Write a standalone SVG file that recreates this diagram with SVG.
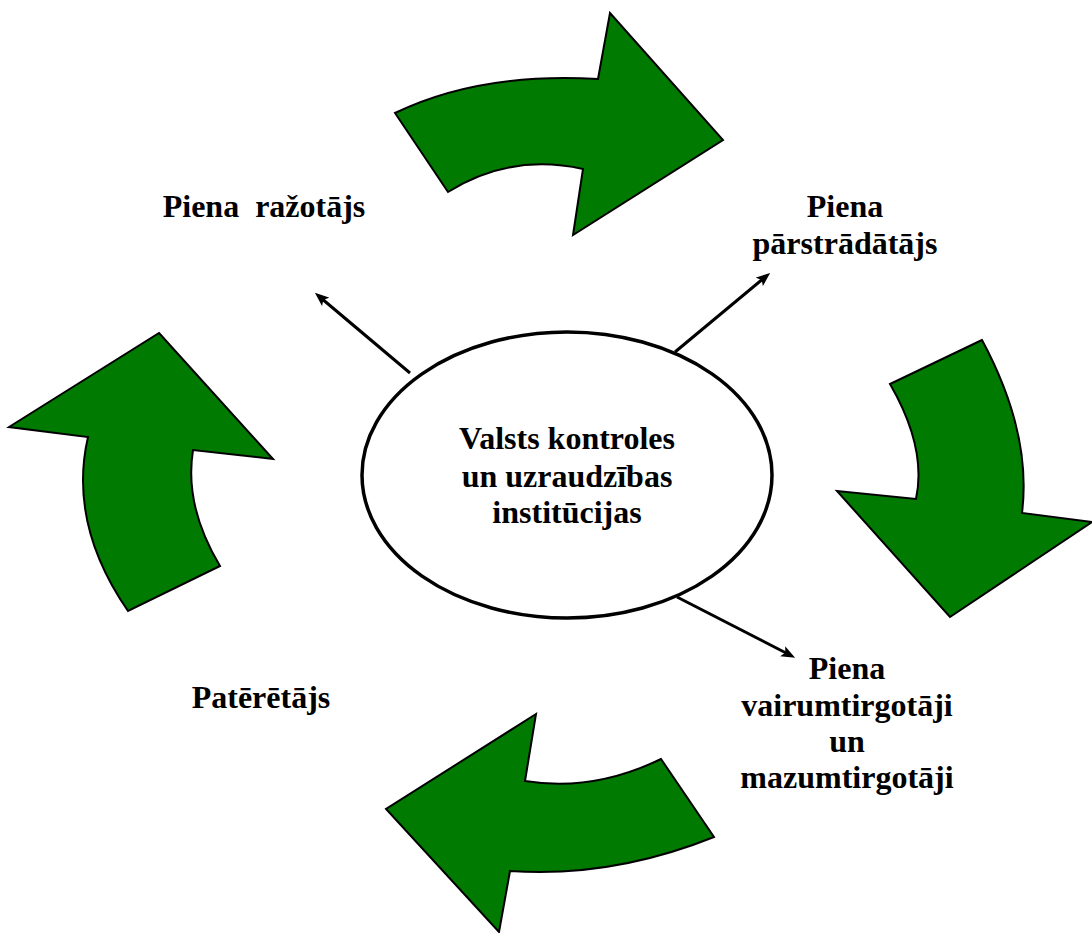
<svg xmlns="http://www.w3.org/2000/svg" width="1092" height="933" viewBox="0 0 1092 933">
<style>
.bg{fill:#ffffff}
.big{fill:#007a00;stroke:#000000;stroke-width:2;stroke-linejoin:miter}
.lbl{font-family:"Liberation Serif","Times New Roman",serif;font-weight:bold;font-size:32px;fill:#000000;text-anchor:middle}
.conn{stroke:#000000;stroke-width:3;fill:none}
.oval{fill:#ffffff;stroke:#000000;stroke-width:3.5}
</style>
<defs>
<marker id="ah" markerUnits="userSpaceOnUse" markerWidth="14" markerHeight="12" refX="6" refY="6" orient="auto">
<path d="M0,0.5 L14,6 L0,11.5 L3,6 Z" fill="#000000"/>
</marker>
</defs>
<rect class="bg" x="0" y="0" width="1092" height="933"/>
<g id="flow-arrows">
<path id="arrow-top" class="big" d="M395,113 Q480,72 598,79 L610,13 L723,140 L573,235 L583,169 Q510,153 448,192 Z"/>
<path id="arrow-right" class="big" d="M982,340 L890,384 Q927,448 916,499 L837,491 L950,617 L1092,522 L1022,513 Q1032,433 982,340 Z"/>
<path id="arrow-bottom" class="big" d="M536,714 L386,809 L499,932 L510,871 Q612,878 714,837 L661,759 Q593,792 525,781 Z"/>
<path id="arrow-left" class="big" d="M159,333 L273,459 L193,450 Q184,506 220,566 L128,611 Q68,524 88,437 L9,427 Z"/>
</g>
<g id="connectors">
<line class="conn" x1="410" y1="373" x2="321" y2="298" marker-end="url(#ah)"/>
<line class="conn" x1="675" y1="352" x2="764" y2="278" marker-end="url(#ah)"/>
<line class="conn" x1="677" y1="597" x2="788" y2="654" marker-end="url(#ah)"/>
</g>
<g id="center">
<ellipse class="oval" cx="567" cy="475" rx="205" ry="143"/>
<text class="lbl" x="567" y="449">Valsts kontroles</text>
<text class="lbl" x="567" y="487">un uzraudzības</text>
<text class="lbl" x="567" y="523">institūcijas</text>
</g>
<g id="producer">
<text class="lbl" x="264" y="217" xml:space="preserve">Piena  ražotājs</text>
</g>
<g id="processor">
<text class="lbl" x="845" y="217">Piena</text>
<text class="lbl" x="845" y="254">pārstrādātājs</text>
</g>
<g id="traders">
<text class="lbl" x="847" y="679">Piena</text>
<text class="lbl" x="847" y="716">vairumtirgotāji</text>
<text class="lbl" x="847" y="752">un</text>
<text class="lbl" x="847" y="788">mazumtirgotāji</text>
</g>
<g id="consumer">
<text class="lbl" x="261" y="708">Patērētājs</text>
</g>
</svg>
